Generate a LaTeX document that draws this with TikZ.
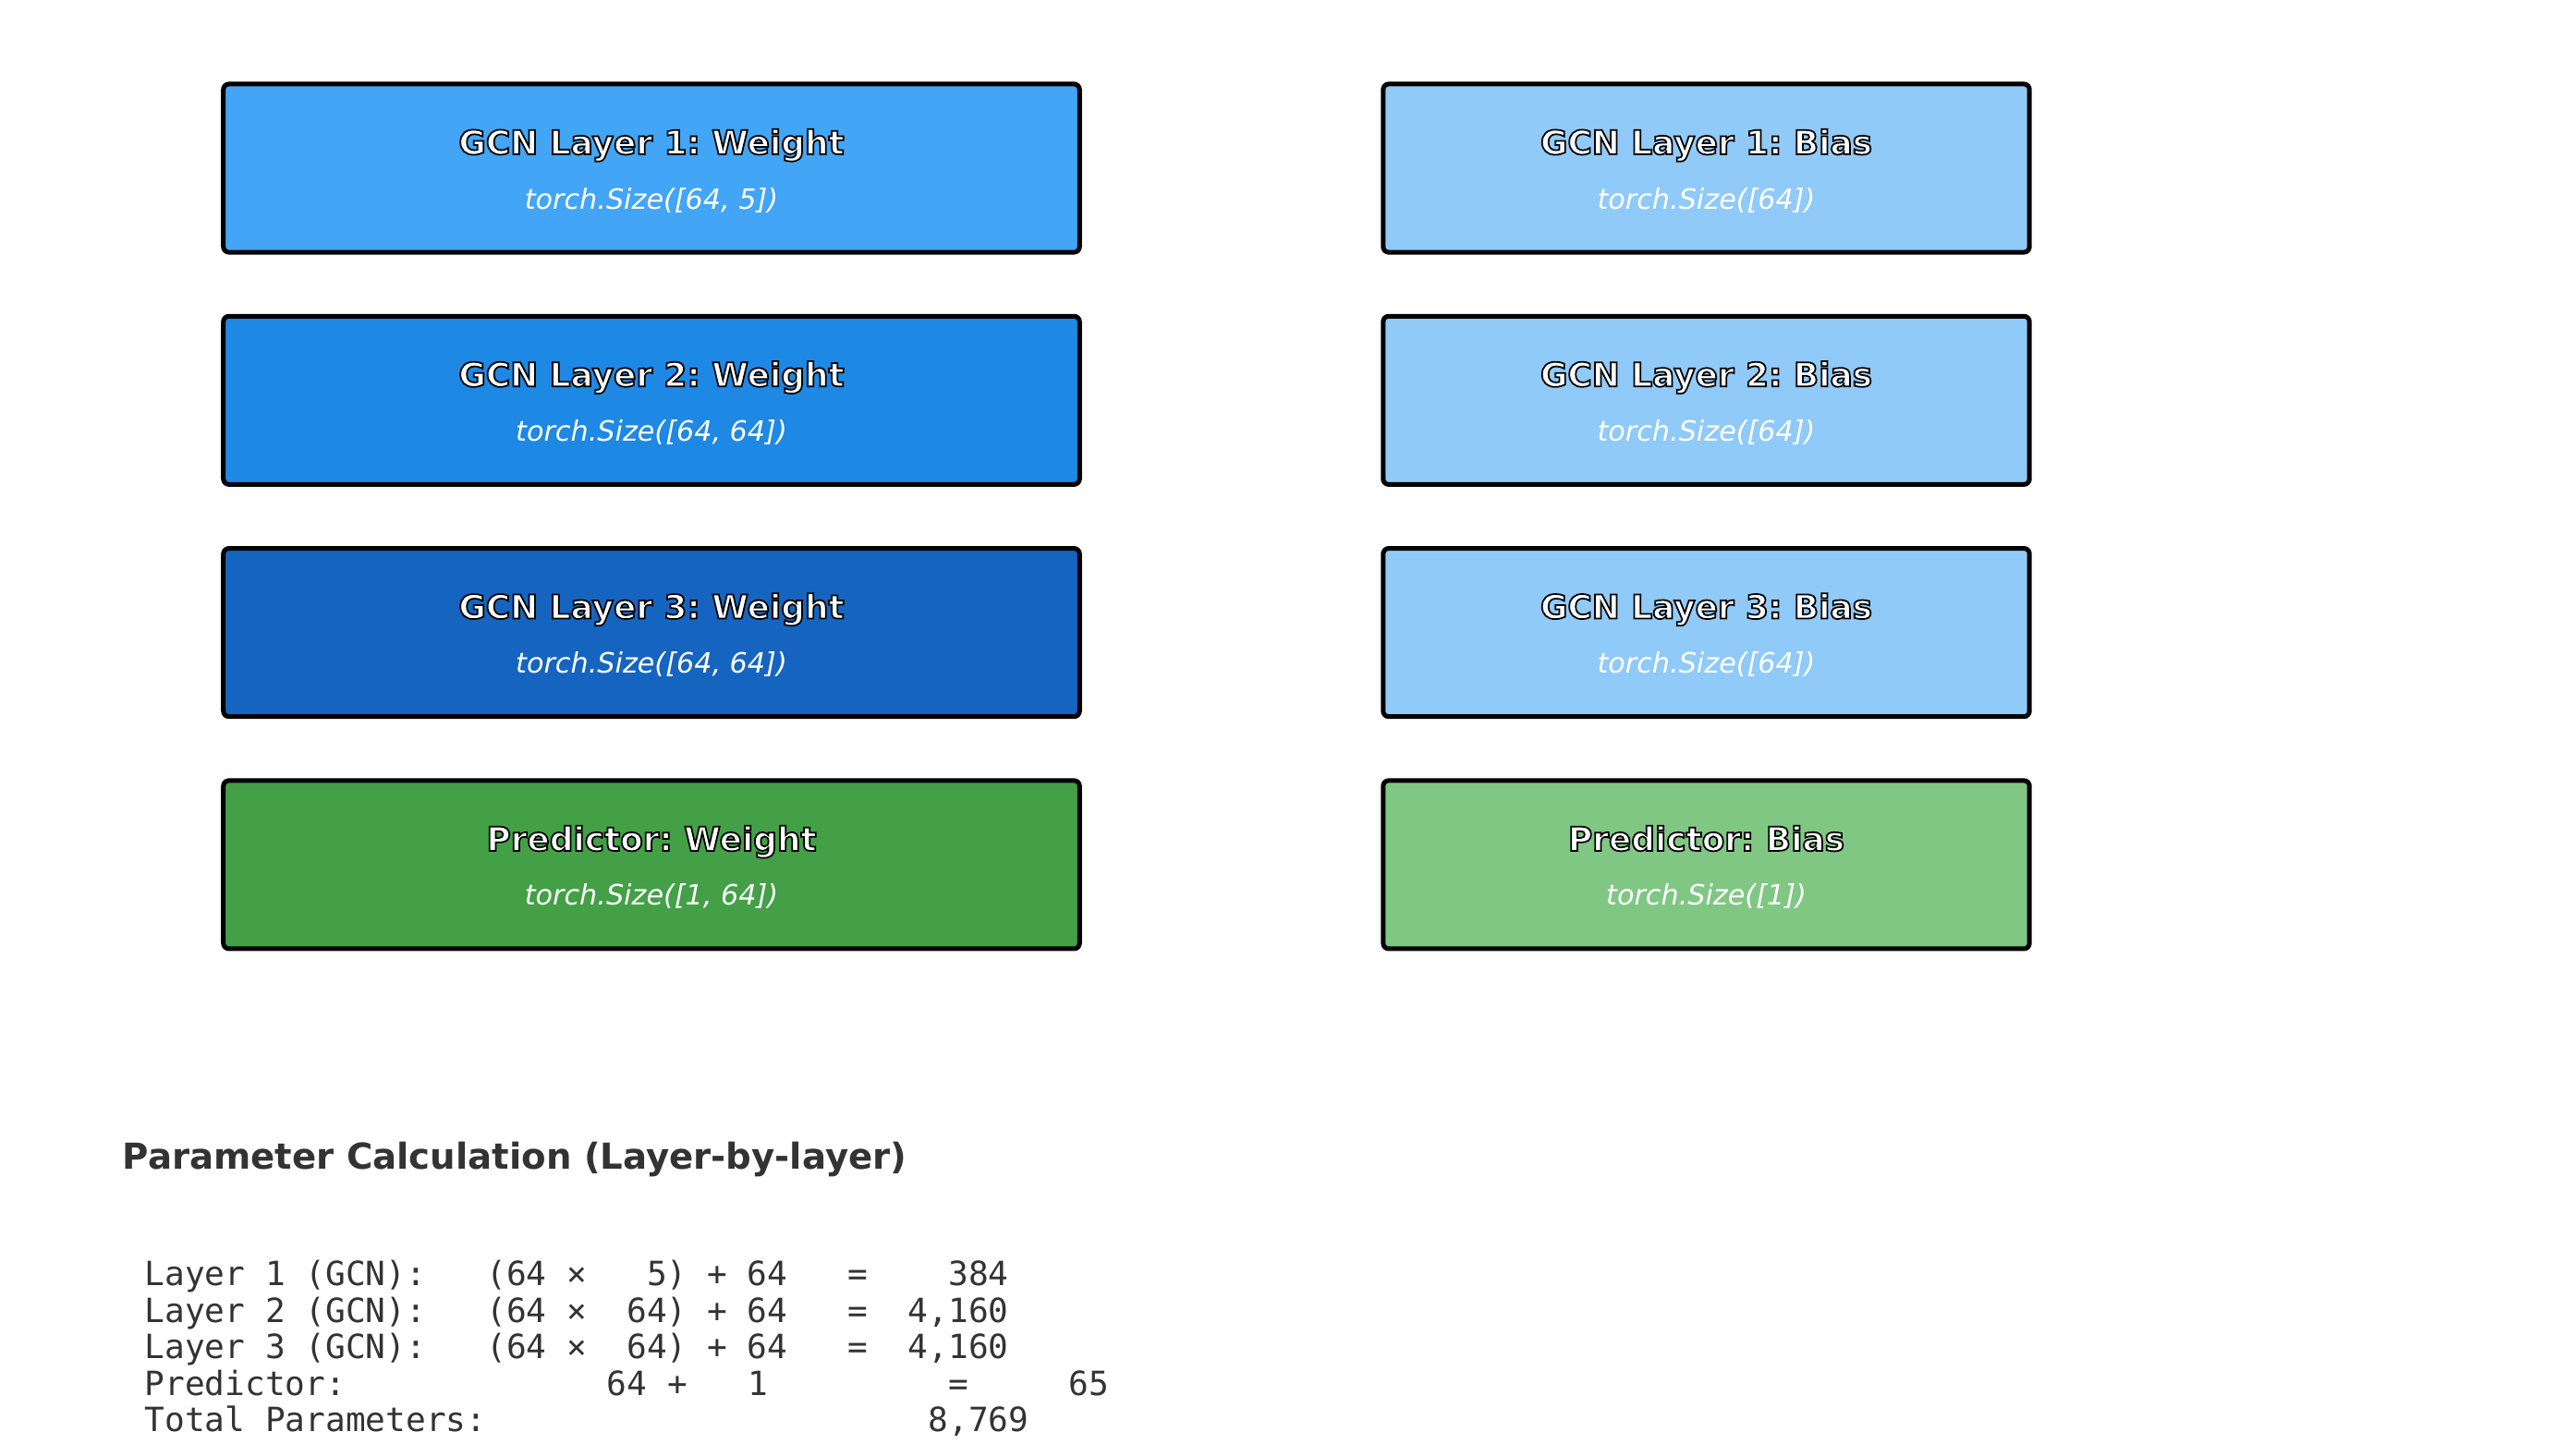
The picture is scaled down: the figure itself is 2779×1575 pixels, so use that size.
\documentclass[tikz,border=0pt]{standalone}
\usepackage{fontspec}
\setmainfont{DejaVu Sans}
\newfontfamily\codefont{DejaVu Sans Mono}
\frenchspacing
\definecolor{bleuA}{HTML}{42A5F5}
\definecolor{bleuB}{HTML}{1E88E5}
\definecolor{bleuC}{HTML}{1565C0}
\definecolor{vertA}{HTML}{43A047}
\definecolor{bleuClair}{HTML}{90CAF9}
\definecolor{vertClair}{HTML}{81C784}
\definecolor{grisTexte}{HTML}{333333}
% texte blanc cerne de noir
\newcommand\detoure[1]{\special{pdf:literal direct 0 0 0 RG 0.5 w 2 Tr}#1\special{pdf:literal direct 0 Tr}}
\begin{document}
\begin{tikzpicture}[x=0.01cm,y=-0.01cm]
			\tikzstyle{boite}=[draw=black,line width=0.05cm,rounded corners=0.06cm,minimum height=1.82cm,inner sep=0pt]
			\tikzstyle{poids}=[boite,minimum width=9.26cm]
			\tikzstyle{biais}=[boite,minimum width=6.99cm]
			\tikzstyle{titre}=[anchor=base,inner sep=0pt,text=white,font=\bfseries\fontsize{10.2}{12}\selectfont]
			\tikzstyle{taille}=[anchor=base,inner sep=0pt,text=white,font=\itshape\fontsize{8.6}{10}\selectfont]
			\tikzstyle{entete}=[anchor=base west,inner sep=0pt,text=grisTexte,font=\bfseries\fontsize{11}{13}\selectfont]
			\tikzstyle{code}=[anchor=base west,inner sep=0pt,text=grisTexte,font=\codefont\fontsize{10.27}{12}\selectfont]
			\def\ColonneG{705}
			\def\ColonneD{1846.5}
			\def\LigneA{182}
			\def\LigneB{433.3}
			\def\LigneC{684.6}
			\def\LigneD{935.9}
			\def\MargeCode{156}
			\def\InterLignesCode{39.45}
			\useasboundingbox (0,0) rectangle (2779,1575);
			\node[poids,fill=bleuA] (P1) at ({\ColonneG},{\LigneA}) {};
			\node[poids,fill=bleuB] (P2) at ({\ColonneG},{\LigneB}) {};
			\node[poids,fill=bleuC] (P3) at ({\ColonneG},{\LigneC}) {};
			\node[poids,fill=vertA] (P4) at ({\ColonneG},{\LigneD}) {};
			\node[biais,fill=bleuClair] (B1) at ({\ColonneD},{\LigneA}) {};
			\node[biais,fill=bleuClair] (B2) at ({\ColonneD},{\LigneB}) {};
			\node[biais,fill=bleuClair] (B3) at ({\ColonneD},{\LigneC}) {};
			\node[biais,fill=vertClair] (B4) at ({\ColonneD},{\LigneD}) {};
			\node[titre] (P1t) at ([yshift=0.15cm]P1.center) {\detoure{GCN Layer 1: Weight}};
			\node[taille] (P1s) at ([yshift=-0.44cm]P1.center) {torch.Size([64, 5])};
			\node[titre] (P2t) at ([yshift=0.15cm]P2.center) {\detoure{GCN Layer 2: Weight}};
			\node[taille] (P2s) at ([yshift=-0.44cm]P2.center) {torch.Size([64, 64])};
			\node[titre] (P3t) at ([yshift=0.15cm]P3.center) {\detoure{GCN Layer 3: Weight}};
			\node[taille] (P3s) at ([yshift=-0.44cm]P3.center) {torch.Size([64, 64])};
			\node[titre] (P4t) at ([yshift=0.15cm]P4.center) {\detoure{Predictor: Weight}};
			\node[taille] (P4s) at ([yshift=-0.44cm]P4.center) {torch.Size([1, 64])};
			\node[titre] (B1t) at ([yshift=0.15cm]B1.center) {\detoure{GCN Layer 1: Bias}};
			\node[taille] (B1s) at ([yshift=-0.44cm]B1.center) {torch.Size([64])};
			\node[titre] (B2t) at ([yshift=0.15cm]B2.center) {\detoure{GCN Layer 2: Bias}};
			\node[taille] (B2s) at ([yshift=-0.44cm]B2.center) {torch.Size([64])};
			\node[titre] (B3t) at ([yshift=0.15cm]B3.center) {\detoure{GCN Layer 3: Bias}};
			\node[taille] (B3s) at ([yshift=-0.44cm]B3.center) {torch.Size([64])};
			\node[titre] (B4t) at ([yshift=0.15cm]B4.center) {\detoure{Predictor: Bias}};
			\node[taille] (B4s) at ([yshift=-0.44cm]B4.center) {torch.Size([1])};
			\node[entete] (E) at (132,1265) {Parameter Calculation (Layer-by-layer)};
			\node[code] (L1) at ({\MargeCode},{1391.7}) {Layer~1~(GCN):~~~(64~×~~~5)~+~64~~~=~~~~384};
			\node[code] (L2) at ({\MargeCode},{1391.7+\InterLignesCode}) {Layer~2~(GCN):~~~(64~×~~64)~+~64~~~=~~4,160};
			\node[code] (L3) at ({\MargeCode},{1391.7+2*\InterLignesCode}) {Layer~3~(GCN):~~~(64~×~~64)~+~64~~~=~~4,160};
			\node[code] (L4) at ({\MargeCode},{1391.7+3*\InterLignesCode}) {Predictor:~~~~~~~~~~~~~64~+~~~1~~~~~~~~~=~~~~~65};
			\node[code] (L5) at ({\MargeCode},{1391.7+4*\InterLignesCode}) {Total~Parameters:~~~~~~~~~~~~~~~~~~~~~~8,769};
		\end{tikzpicture}
\end{document}
